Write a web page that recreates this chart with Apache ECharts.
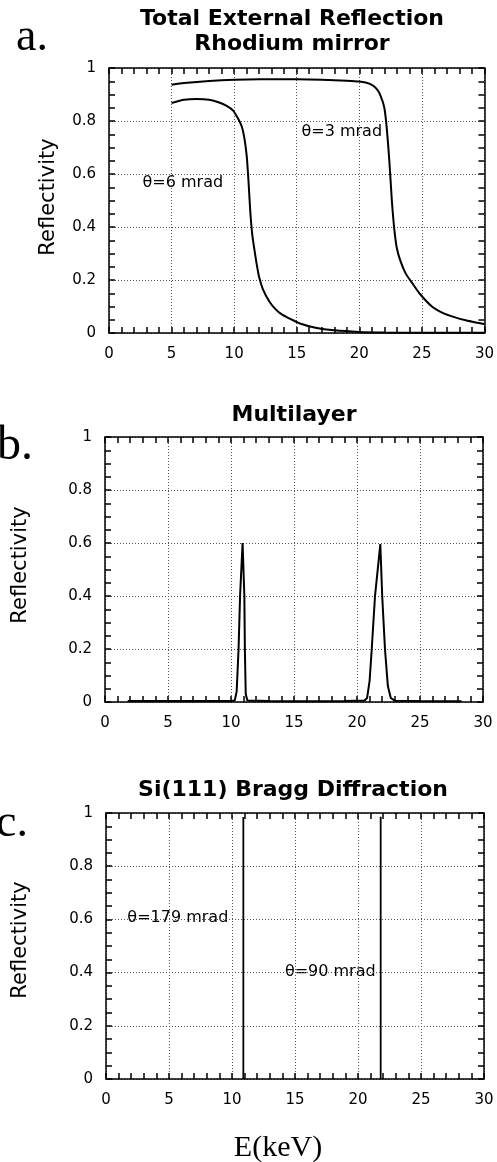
<!DOCTYPE html>
<html>
<head>
<meta charset="utf-8">
<script src="https://cdn.jsdelivr.net/npm/echarts@6/dist/echarts.min.js"></script>
<style>
html, body { margin: 0; padding: 0; background: #fff; }
#chart { width: 497px; height: 1162px; }
</style>
</head>
<body>
<div id="chart"></div>
<script>
// a. total external reflection, rhodium mirror
const e3mrad = [5, 6, 8, 10, 12, 14, 16, 18, 19, 20, 20.5, 21, 21.4, 21.7, 22.0, 22.2, 22.4, 22.6, 22.8, 23.0, 23.3, 23.7, 24.2, 24.8, 25.8, 26.7, 27.6, 28.5, 29.3, 30];
const r3mrad = [0.937, 0.943, 0.951, 0.956, 0.958, 0.958, 0.957, 0.954, 0.952, 0.949, 0.945, 0.936, 0.92, 0.895, 0.85, 0.77, 0.65, 0.5, 0.39, 0.32, 0.27, 0.225, 0.19, 0.15, 0.1, 0.075, 0.06, 0.048, 0.04, 0.034];
const e6mrad = [5, 6, 7, 8, 8.8, 9.4, 9.9, 10.3, 10.6, 10.8, 11.0, 11.15, 11.3, 11.45, 11.6, 11.8, 12.0, 12.3, 12.8, 13.3, 13.8, 14.4, 15.2, 16.5, 18, 20, 22, 26, 30];
const r6mrad = [0.868, 0.88, 0.883, 0.88, 0.87, 0.857, 0.84, 0.81, 0.78, 0.74, 0.67, 0.57, 0.45, 0.37, 0.32, 0.26, 0.21, 0.165, 0.12, 0.09, 0.07, 0.055, 0.037, 0.02, 0.01, 0.004, 0.002, 0.001, 0.001];

// b. multilayer
const eMulti = [1.8, 5, 8, 10, 10.3, 10.45, 10.6, 10.72, 10.92, 11.06, 11.1, 11.17, 11.3, 13, 16, 19, 20.6, 20.8, 21.0, 21.17, 21.43, 21.85, 22.0, 22.22, 22.45, 22.68, 23.0, 25, 28.3];
const rMulti = [0.004, 0.004, 0.004, 0.004, 0.006, 0.04, 0.2, 0.4, 0.6, 0.4, 0.2, 0.03, 0.006, 0.004, 0.003, 0.004, 0.006, 0.015, 0.08, 0.2, 0.4, 0.596, 0.4, 0.2, 0.06, 0.015, 0.005, 0.004, 0.003];

// c. Si(111) bragg lines
const eBragg = [10.9, 21.8];
const rBragg = [0.985, 0.986];

// curve labels, placed in data units
const labelsA = [{ name: 'θ=3 mrad', e: 18.6, r: 0.76 }, { name: 'θ=6 mrad', e: 5.9, r: 0.566 }];
const labelsC = [{ name: 'θ=179 mrad', e: 5.7, r: 0.605 }, { name: 'θ=90 mrad', e: 17.8, r: 0.402 }];

const xMin = 0, xMax = 30, xStep = 5;
const yMin = 0, yMax = 1, yStep = 0.2;

const zip = (xs, ys) => xs.map((x, i) => [x, ys[i]]);
const FONT = 'DejaVu Sans';

const grids = [
    { left: 109, top: 68, width: 377, height: 265 },
    { left: 105, top: 437, width: 378, height: 265 },
    { left: 106, top: 813, width: 378, height: 266 }
];

const tickLine = { color: '#000', width: 1.5 };

// top/right copies only draw the frame + ticks, kept off the zero line
function axisFor(i, dim, pos, main) {
    const isX = dim === 'x';
    const ax = {
        type: 'value', gridIndex: i, position: pos,
        min: isX ? xMin : yMin, max: isX ? xMax : yMax, interval: isX ? xStep : yStep,
        axisLine: { show: true, lineStyle: { color: '#000', width: 1.5 } },
        axisTick: { show: true, inside: true, length: 6, lineStyle: tickLine },
        minorTick: { show: true, splitNumber: isX ? 5 : 4, length: 6, lineStyle: tickLine },
        axisLabel: { show: main, margin: isX ? 14 : 13, color: '#000', fontSize: 15, fontFamily: FONT },
        splitLine: { show: main, lineStyle: { color: '#555', type: [1, 2], width: 1 } }
    };
    if (!main) ax.axisLine.onZeroAxisIndex = 99;
    return ax;
}

const xAxes = [], yAxes = [];
grids.forEach((g, i) => {
    xAxes.push(axisFor(i, 'x', 'bottom', true), axisFor(i, 'x', 'top', false));
    yAxes.push(axisFor(i, 'y', 'left', true), axisFor(i, 'y', 'right', false));
});

function curve(i, data, width, smooth) {
    return {
        type: 'line', xAxisIndex: i * 2, yAxisIndex: i * 2, data: data,
        showSymbol: false, symbol: 'none', smooth: smooth || 0,
        lineStyle: { color: '#000', width: width }
    };
}

const series = [
    curve(0, zip(e3mrad, r3mrad), 2, 0.2),
    curve(0, zip(e6mrad, r6mrad), 2, 0.2),
    curve(1, zip(eMulti, rMulti), 2, 0),
    ...eBragg.map((e, k) => curve(2, [[e, 0], [e, rBragg[k]]], 1.8, 0))
];

function txt(x, y, text, size, opts) {
    opts = opts || {};
    return {
        type: 'text', x: x, y: y, rotation: opts.rotation || 0,
        style: {
            text: text, align: opts.align || 'center', verticalAlign: 'middle',
            fontSize: size, fontFamily: opts.family || FONT,
            fontWeight: opts.weight || 'normal', fill: '#000'
        }
    };
}

const graphic = [
    txt(292, 19, 'Total External Reflection', 22, { weight: 'bold' }),
    txt(292, 44, 'Rhodium mirror', 22, { weight: 'bold' }),
    txt(294, 415, 'Multilayer', 22, { weight: 'bold' }),
    txt(293, 790, 'Si(111) Bragg Diffraction', 22, { weight: 'bold' }),
    txt(16, 38, 'a.', 46, { align: 'left', family: 'Liberation Serif' }),
    txt(-3, 446, 'b.', 48, { align: 'left', family: 'Liberation Serif' }),
    txt(-4, 824, 'c.', 46, { align: 'left', family: 'Liberation Serif' }),
    txt(49, 197, 'Reflectivity', 21, { rotation: Math.PI / 2 }),
    txt(21, 565, 'Reflectivity', 21, { rotation: Math.PI / 2 }),
    txt(21, 940, 'Reflectivity', 21, { rotation: Math.PI / 2 }),
    txt(278, 1148, 'E(keV)', 30, { family: 'Liberation Serif' })
];

const myChart = echarts.init(document.getElementById('chart'));
const option = {
    animation: false,
    backgroundColor: '#fff',
    grid: grids,
    xAxis: xAxes,
    yAxis: yAxes,
    series: series,
    graphic: graphic
};
myChart.setOption(option);

// curve labels go through the grid's own scales
const placed = [];
[[0, labelsA], [2, labelsC]].forEach(([gi, list]) => {
    list.forEach(d => {
        const p = myChart.convertToPixel({ gridIndex: gi }, [d.e, d.r]);
        placed.push(txt(p[0], p[1], d.name, 16));
    });
});
myChart.setOption({ graphic: graphic.concat(placed) });
</script>
</body>
</html>
